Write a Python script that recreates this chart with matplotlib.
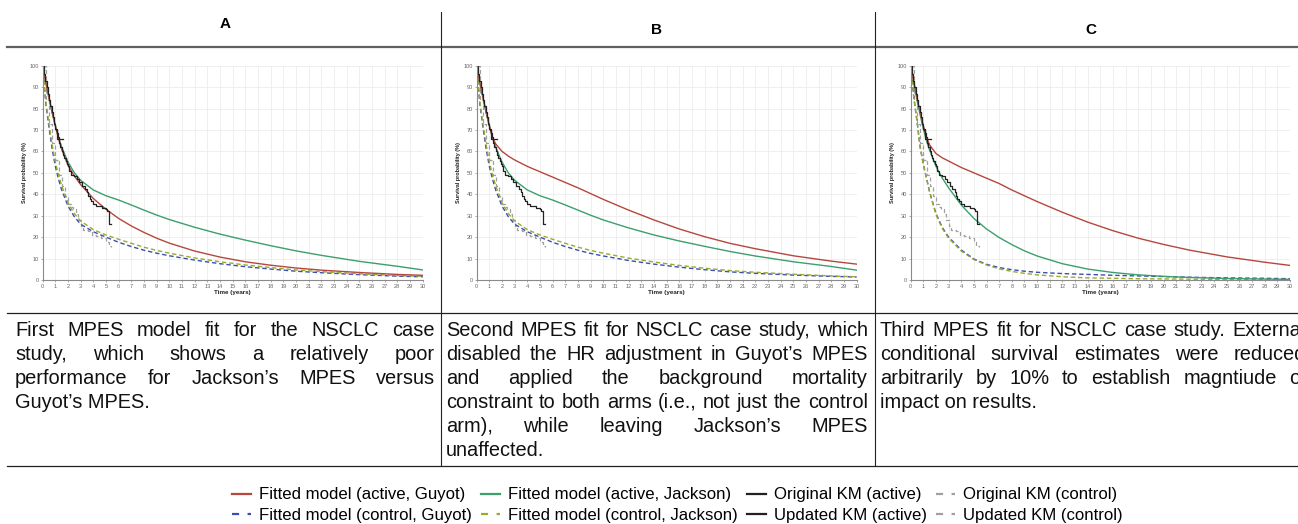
import matplotlib
matplotlib.use("Agg")
import matplotlib.pyplot as plt
from matplotlib.lines import Line2D
from matplotlib.transforms import IdentityTransform

# ---------------- data ----------------
t_fit = [0, 0.25, 0.5, 0.75, 1, 1.25, 1.5, 2, 2.5, 3, 4, 5, 6, 7, 8, 9, 10, 12, 14, 16, 18, 20, 22, 25, 28, 30]

# Panel A
a_act_guyot = [100, 92, 85, 78, 72, 66, 61, 53.5, 48.5, 44.5, 38, 33, 28.7, 25.2, 22.2, 19.5, 17.2, 13.5, 10.7, 8.5, 6.9, 5.6, 4.6, 3.5, 2.6, 2.2]
a_act_jackson = [100, 92, 85, 78, 72, 66.5, 62, 55, 50, 46.5, 42, 39.3, 37.3, 35, 32.6, 30.3, 28.2, 24.6, 21.4, 18.6, 16, 13.6, 11.5, 8.7, 6.4, 4.7]
a_ctl_guyot = [100, 82, 71, 61, 53, 47, 42, 34.5, 29.5, 26, 22.5, 20, 17.6, 15.6, 13.9, 12.5, 11.3, 9.3, 7.6, 6.2, 5.1, 4.1, 3.4, 2.5, 1.8, 1.5]
a_ctl_jackson = [100, 83, 72.5, 63, 55, 49, 44, 36, 31, 27.5, 23.5, 21, 19, 17.1, 15.3, 13.8, 12.5, 10.3, 8.5, 7, 5.8, 4.7, 3.9, 2.9, 2.1, 1.7]

# Panel B
b_act_guyot = [100, 92, 85, 78, 72, 66.5, 63.5, 60, 57.8, 56, 53, 50.5, 48, 45.5, 43, 40.3, 37.6, 32.6, 28, 23.8, 20.2, 17.1, 14.6, 11.3, 8.8, 7.4]
b_act_jackson = [100, 92, 85, 78, 72, 66.5, 62, 55, 50, 46.5, 42, 39.3, 37.3, 35, 32.6, 30.2, 28, 24.3, 21, 18.2, 15.7, 13.3, 11.2, 8.5, 6.3, 4.6]
b_ctl_guyot = [100, 82, 71, 61, 53, 47, 42, 34.5, 29.5, 26, 22.5, 20, 17.6, 15.6, 13.9, 12.4, 11.2, 9.1, 7.4, 6, 4.8, 3.8, 3.1, 2.3, 1.7, 1.4]
b_ctl_jackson = [100, 83, 72.5, 63, 55, 49, 44, 36, 31, 27.5, 23.5, 21, 19, 17.1, 15.3, 13.8, 12.5, 10.2, 8.4, 6.8, 5.5, 4.4, 3.6, 2.7, 1.9, 1.5]

# Panel C
c_act_guyot = [100, 92, 85, 78, 72, 66.5, 63, 59, 57, 55.5, 52.5, 50, 47.5, 45, 42, 39.3, 36.6, 31.6, 27, 23, 19.5, 16.6, 14, 10.8, 8.3, 6.8]
c_act_jackson = [100, 92, 84, 77, 70.5, 65, 60.5, 53, 47.5, 43, 35, 28.7, 23.8, 19.8, 16.5, 13.6, 11.2, 7.6, 5.1, 3.5, 2.4, 1.7, 1.2, 0.7, 0.45, 0.3]
c_ctl_guyot = [100, 85, 74, 62, 54, 47.5, 41, 31, 24.5, 20, 14, 9.8, 7.3, 5.8, 4.8, 4.1, 3.6, 3.0, 2.6, 2.2, 1.9, 1.6, 1.3, 1.0, 0.8, 0.6]
c_ctl_jackson = [100, 85, 74, 62, 54, 47.5, 41, 30.5, 24, 19.5, 13.5, 9.5, 7, 5.2, 4, 3.1, 2.4, 1.5, 1.0, 0.8, 0.6, 0.5, 0.4, 0.3, 0.2, 0.2]

# Kaplan-Meier (same observed data in all panels)
km_act_t = [0, 0.1, 0.2, 0.3, 0.4, 0.5, 0.6, 0.7, 0.8, 0.9, 1.0, 1.1, 1.2, 1.3, 1.4, 1.5, 1.6, 1.7, 1.8, 1.9,
            2.0, 2.1, 2.2, 2.5, 2.7, 2.9, 3.1, 3.3, 3.5, 3.6, 3.7, 3.8, 4.0, 4.2, 4.5, 4.7, 5.0, 5.1, 5.25, 5.4]
km_act_s = [100, 96, 93, 90, 87, 84, 81, 78.5, 76, 73, 70.5, 68.5, 66.5, 64, 62, 60, 58.5, 57, 55.5, 54,
            53, 51, 49, 48.5, 47, 45.5, 44, 42.5, 41, 39, 38, 37, 35.5, 34.5, 34.5, 33.5, 33, 32, 26, 26]
upd_act_t = [1.05, 1.15, 1.6]
upd_act_s = [70, 66, 66]
km_ctl_t = [0, 0.25, 0.5, 0.75, 1.0, 1.25, 1.5, 1.75, 2.0, 2.2, 2.4, 2.6, 2.8, 3.0, 3.2, 3.6, 3.9, 4.2, 4.6, 5.0, 5.2, 5.4]
km_ctl_s = [100, 84, 73, 64, 56, 49, 44, 39, 35.5, 34, 33, 31, 28, 25, 23.5, 23, 21, 20.5, 19.5, 17.5, 16, 15.5]
upd_ctl_t = [1.0, 1.2]
upd_ctl_s = [56, 56]

panel_titles = ["A", "B", "C"]
captions = [
    ["First MPES model fit for the NSCLC case",
     "study, which shows a relatively poor",
     "performance for Jackson\u2019s MPES versus",
     "Guyot\u2019s MPES."],
    ["Second MPES fit for NSCLC case study, which",
     "disabled the HR adjustment in Guyot\u2019s MPES",
     "and applied the background mortality",
     "constraint to both arms (i.e., not just the control",
     "arm), while leaving Jackson\u2019s MPES",
     "unaffected."],
    ["Third MPES fit for NSCLC case study. External",
     "conditional survival estimates were reduced",
     "arbitrarily by 10% to establish magntiude of",
     "impact on results."],
]
x_ticks = list(range(0, 31))
y_ticks = list(range(0, 101, 10))

# ---------------- styling ----------------
W, H = 1298, 524
plt.rcParams['font.family'] = ['Liberation Sans', 'DejaVu Sans']
fig = plt.figure(figsize=(W / 100, H / 100), dpi=100)

C_RED = "#b5473d"
C_GREEN = "#3c9f6c"
C_BLUE = "#3b4fb0"
C_OLIVE = "#9aab2c"
C_BLACK = "#222222"
C_GRAY = "#a0a0a0"
DASH = (0, (3.2, 2.0))


def fx(x):
    return x / W


def fy(y):
    return 1 - y / H


panels = [
    dict(x0=42.7, x1=422.7, ag=a_act_guyot, aj=a_act_jackson, cg=a_ctl_guyot, cj=a_ctl_jackson),
    dict(x0=476.7, x1=856.7, ag=b_act_guyot, aj=b_act_jackson, cg=b_ctl_guyot, cj=b_ctl_jackson),
    dict(x0=910.7, x1=1290.0, ag=c_act_guyot, aj=c_act_jackson, cg=c_ctl_guyot, cj=c_ctl_jackson),
]
y_top, y_bot = 65.7, 280.0

handles = None
for i, p in enumerate(panels):
    ax = fig.add_axes([fx(p['x0']), fy(y_bot), (p['x1'] - p['x0']) / W, (y_bot - y_top) / H])
    l_kc, = ax.step(km_ctl_t, km_ctl_s, where='post', color=C_GRAY, lw=0.9, linestyle=DASH, label="Original KM (control)")
    l_uc, = ax.step(upd_ctl_t, upd_ctl_s, where='post', color=C_GRAY, lw=0.9, linestyle=DASH, label="Updated KM (control)")
    l_cg, = ax.plot(t_fit, p['cg'], color=C_BLUE, lw=1.0, linestyle=DASH, label="Fitted model (control, Guyot)")
    l_cj, = ax.plot(t_fit, p['cj'], color=C_OLIVE, lw=1.0, linestyle=DASH, label="Fitted model (control, Jackson)")
    l_aj, = ax.plot(t_fit, p['aj'], color=C_GREEN, lw=1.0, label="Fitted model (active, Jackson)")
    l_ag, = ax.plot(t_fit, p['ag'], color=C_RED, lw=1.0, label="Fitted model (active, Guyot)")
    l_ka, = ax.step(km_act_t, km_act_s, where='post', color=C_BLACK, lw=0.9, label="Original KM (active)")
    l_ua, = ax.step(upd_act_t, upd_act_s, where='post', color=C_BLACK, lw=0.9, label="Updated KM (active)")
    if handles is None:
        handles = [l_ag, l_cg, l_aj, l_cj, l_ka, l_ua, l_kc, l_uc]

    ax.set_xlim(0, 30)
    ax.set_ylim(0, 100)
    ax.set_xticks(x_ticks)
    ax.set_yticks(y_ticks)
    ax.grid(True, color="#ececec", lw=0.6)
    ax.set_axisbelow(True)
    for s in ['top', 'right']:
        ax.spines[s].set_visible(False)
    for s in ['left', 'bottom']:
        ax.spines[s].set_color("#8a8a8a")
        ax.spines[s].set_linewidth(0.8)
    ax.tick_params(axis='both', labelsize=4.1, colors="#8a8a8a", labelcolor="#666666",
                   length=1.5, width=0.5, pad=1.2)
    ax.set_xlabel("Time (years)", fontsize=4.5, fontweight='bold', labelpad=1.0, color="#222222")
    ax.set_ylabel("Survival probability (%)", fontsize=4.0, fontweight='bold', labelpad=1.5, color="#222222")

# ---------------- table frame ----------------
def hline(y, x0, x1, lw, color):
    fig.add_artist(Line2D([fx(x0), fx(x1)], [fy(y), fy(y)], transform=fig.transFigure, lw=lw, color=color))


def vline(x, y0, y1, lw, color):
    fig.add_artist(Line2D([fx(x), fx(x)], [fy(y0), fy(y1)], transform=fig.transFigure, lw=lw, color=color))


hline(47.3, 7, W, 1.6, "#606060")
hline(313.3, 7, W, 0.9, "#222222")
hline(465.7, 7, W, 0.9, "#222222")
vline(441, 12, 465.7, 0.8, "#222222")
vline(875, 12, 465.7, 0.8, "#222222")

title_pos = [(225, 24), (657, 30), (1091, 30)]
for (tx, ty), ttl in zip(title_pos, panel_titles):
    fig.text(fx(tx), fy(ty), ttl, ha='center', va='center', fontsize=11, fontweight='bold')

# ---------------- justified captions ----------------
fig.canvas.draw()
renderer = fig.canvas.get_renderer()
CAP_FS = 14.4
col_bounds = [(15, 435), (446, 868), (880, 1306)]
line0, dy = 331, 23.8
for (cx0, cx1), lines in zip(col_bounds, captions):
    for k, line in enumerate(lines):
        ypix = H - (line0 + k * dy)
        words = line.split()
        if k == len(lines) - 1:
            fig.text(cx0, ypix, line, transform=IdentityTransform(), fontsize=CAP_FS,
                     ha='left', va='center', color="#111111")
            continue
        objs = [fig.text(0, ypix, w, transform=IdentityTransform(), fontsize=CAP_FS,
                         ha='left', va='center', color="#111111") for w in words]
        widths = [o.get_window_extent(renderer).width for o in objs]
        gap = max((cx1 - cx0 - sum(widths)) / max(len(words) - 1, 1), 2.5)
        x = cx0
        for o, w in zip(objs, widths):
            o.set_x(x)
            x += w + gap

# ---------------- legend ----------------
leg = fig.legend(handles=handles, labels=[h.get_label() for h in handles], ncol=4,
                 loc='center', bbox_to_anchor=(fx(677), fy(505)), frameon=False,
                 fontsize=12.1, handlelength=1.15, handletextpad=0.45, columnspacing=0.55,
                 labelspacing=0.3)
for ln in leg.get_lines():
    ln.set_linewidth(1.6)
    if ln.get_linestyle() not in ('-', 'solid'):
        ln.set_linestyle((0, (3.2, 3.8)))

fig.savefig("out.png", dpi=100)
